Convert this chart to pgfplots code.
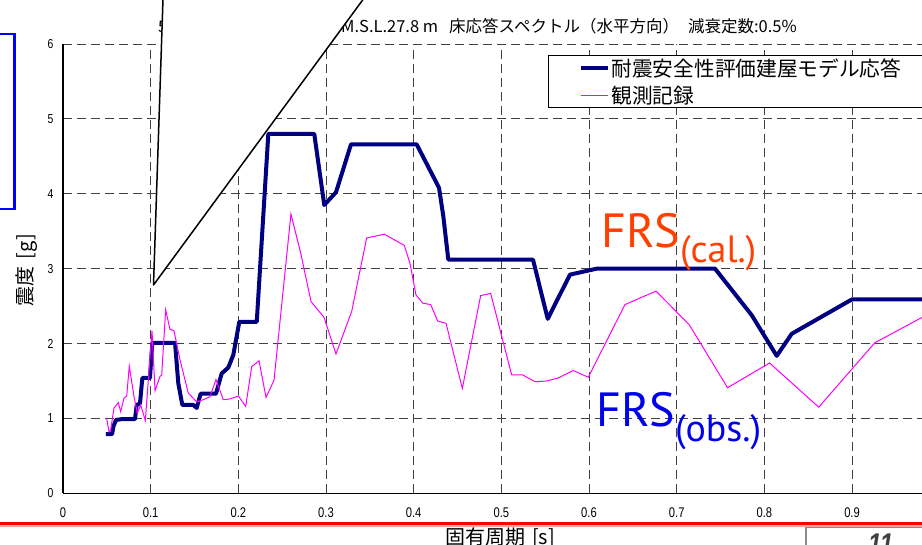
\documentclass[border=0pt]{standalone}
\usepackage{fontspec}
\usepackage{graphicx}
\usepackage{pgfplots}
\pgfplotsset{compat=1.18}
\setmainfont{Noto Sans CJK JP}
\newfontfamily\tickfont{Liberation Sans}[FakeStretch=0.8]
\newfontfamily\frsfont{PT Sans}

\definecolor{calblue}{RGB}{0,0,128}
\definecolor{obsmag}{RGB}{255,0,255}
\definecolor{frsred}{RGB}{255,64,0}
\definecolor{frsblue}{RGB}{0,0,235}

\begin{document}
\begin{tikzpicture}[x=1pt,y=1pt]
\useasboundingbox (0,0) rectangle (922,-545);
\clip (0,0) rectangle (922,-545);

% title (partly hidden by the callout below)
\node[anchor=base west, inner sep=0] at (158,-33) {\fontsize{16}{16}\selectfont 5号機 原子炉建屋 T.};
\node[anchor=base west, inner sep=0] at (341,-33) {\fontsize{16.5}{16}\selectfont M.S.L.27.8 m\hspace{11pt}床応答スペクトル（水平方向）\hspace{9pt}減衰定数:0.5\%};

\begin{axis}[
  at={(63pt,-493.3pt)}, anchor=south west,
  scale only axis, width=876.7pt, height=449.3pt,
  xmin=0, xmax=1, ymin=0, ymax=6,
  axis x line*=bottom, axis y line*=left,
  axis line style={line width=1.6pt},
  xtick={0,0.1,0.2,0.3,0.4,0.5,0.6,0.7,0.8,0.9},
  ytick={0,1,2,3,4,5,6},
  major tick length=0pt,
  grid=major,
  major grid style={dash pattern=on 9pt off 5pt, line width=0.8pt, black!75},
  /pgf/number format/assume math mode=true,
  /pgf/number format/.cd, fixed, precision=1, /pgfplots/.cd,
  xticklabel style={font=\tickfont\fontsize{14}{14}\selectfont, yshift=-11pt},
  yticklabel style={font=\tickfont\fontsize{13}{13}\selectfont, xshift=-6pt},
  xlabel={固有周期\hspace{7pt}[s]},
  ylabel={震度\hspace{7pt}[g]},
  every axis x label/.style={at={(axis description cs:0.4985,0)}, anchor=center, yshift=-44pt, font=\fontsize{20}{20}\selectfont},
  every axis y label/.style={at={(axis description cs:-0.041,0.497)}, rotate=90, anchor=center, font=\fontsize{20}{20}\selectfont},
  legend cell align=left,
  legend style={at={(rel axis cs:0.5532,0.9755)}, anchor=north west, draw=black, line width=1pt, fill=white,
    inner xsep=30pt, inner ysep=1pt, row sep=4pt, font=\fontsize{20.7}{23}\selectfont},
  legend image code/.code={\draw[#1] (0pt,0pt) -- (27pt,0pt);},
]

\addplot[calblue, line width=4pt, line join=round] coordinates {
(0.049,0.79) (0.056,0.79) (0.0574,0.89) (0.0605,0.98) (0.067,0.99) (0.0821,0.99)
(0.0841,1.18) (0.0878,1.20) (0.0905,1.54) (0.0992,1.54) (0.1019,2.01) (0.1278,2.01)
(0.1315,1.47) (0.1361,1.18) (0.1486,1.18) (0.1525,1.14) (0.157,1.33) (0.1745,1.33)
(0.181,1.60) (0.1886,1.68) (0.1943,1.85) (0.2011,2.29) (0.221,2.29) (0.2342,4.80)
(0.2866,4.80) (0.298,3.85) (0.3114,4.02) (0.3285,4.66) (0.4034,4.66) (0.4289,4.08)
(0.4338,3.70) (0.4395,3.12) (0.5361,3.12) (0.5529,2.33) (0.5783,2.92) (0.6088,3.00)
(0.7437,3.00) (0.7855,2.38) (0.8141,1.835) (0.8312,2.13) (0.90,2.59) (1.0,2.59)
};
\addlegendentry{耐震安全性評価建屋モデル応答}

\addplot[obsmag, line width=1pt] coordinates {
(0.0498,1.00) (0.0525,0.82) (0.0544,0.85) (0.0582,1.14) (0.0631,1.21) (0.0658,1.09)
(0.0696,1.27) (0.0727,1.30) (0.0756,1.70) (0.081,1.29) (0.0848,1.07) (0.0886,1.18)
(0.0939,0.97) (0.1015,2.17) (0.105,1.37) (0.1106,1.56) (0.1126,1.58) (0.1171,2.45)
(0.122,2.19) (0.1266,2.17) (0.1335,1.78) (0.1429,1.34) (0.1525,1.22) (0.16,1.25)
(0.1677,1.29) (0.1745,1.52) (0.1828,1.25) (0.1905,1.26) (0.2,1.30) (0.2084,1.16)
(0.2152,1.69) (0.2236,1.77) (0.2316,1.28) (0.2407,1.51) (0.26,3.73) (0.2711,3.21)
(0.2829,2.56) (0.2977,2.35) (0.3114,1.86) (0.3293,2.43) (0.3464,3.41) (0.3665,3.46)
(0.3893,3.31) (0.3958,3.07) (0.4026,2.65) (0.4103,2.54) (0.4194,2.52) (0.4274,2.30)
(0.4369,2.27) (0.4555,1.40) (0.4764,2.64) (0.4878,2.67) (0.5118,1.58) (0.5244,1.58)
(0.5384,1.49) (0.5517,1.50) (0.565,1.54) (0.582,1.64) (0.5992,1.55) (0.641,2.52)
(0.6764,2.70) (0.7144,2.25) (0.758,1.41) (0.806,1.74) (0.862,1.15) (0.926,2.01)
(0.98,2.35) (1.0,2.48)
};
\addlegendentry{観測記録}

\end{axis}

% callout triangle laid over the chart
\filldraw[fill=white, draw=black, line width=1.5pt, line join=round]
  (153.5,-285) -- (163.3,10) -- (370,10) -- cycle;

% slide decorations around the chart
\draw[blue, line width=2.5pt] (-10,-34) rectangle (14.5,-209);
\draw[red!35, line width=1.5pt] (0,-526) -- (922,-526);
\draw[red, line width=3pt] (0,-523.5) -- (922,-523.5);
\draw[black!45, line width=1.5pt] (806,-527.5) rectangle (940,-560);
\node[anchor=north west, inner sep=0, text=black!75] at (868,-534)
  {\tickfont\fontsize{30}{30}\selectfont\bfseries\itshape 11};

% FRS annotations
\node[anchor=base west, inner sep=0, text=frsred] at (601,-248)
  {\frsfont\fontsize{48}{48}\selectfont FRS\raisebox{-15pt}{\fontsize{38}{38}\selectfont (cal.)}};
\node[anchor=base west, inner sep=0, text=frsblue] at (596,-427)
  {\frsfont\fontsize{48}{48}\selectfont FRS\raisebox{-15pt}{\fontsize{38}{38}\selectfont (obs.)}};
\end{tikzpicture}
\end{document}
